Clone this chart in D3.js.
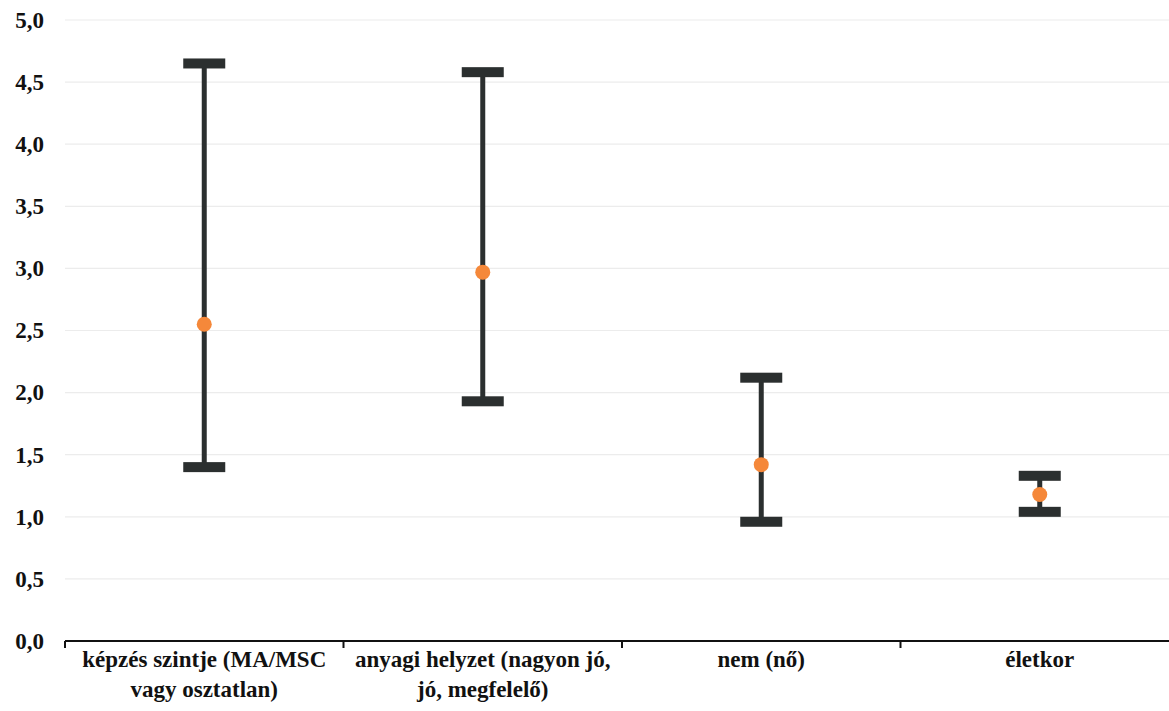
<!DOCTYPE html>
<html>
<head>
<meta charset="utf-8">
<script src="https://cdn.jsdelivr.net/npm/d3@7"></script>
<style>
  html, body { margin: 0; padding: 0; background: #ffffff; }
  svg { display: block; }
  text { font-family: "Liberation Serif", "Times New Roman", serif; font-weight: bold; fill: #111; }
</style>
</head>
<body>
<svg id="chart" width="1169" height="711"></svg>
<script>
// ---- data ----
const categories = ["cat1", "cat2", "cat3", "cat4"];
const categoryLabels = [
  ["képzés szintje (MA/MSC", "vagy osztatlan)"],
  ["anyagi helyzet (nagyon jó,", "jó, megfelelő)"],
  ["nem (nő)"],
  ["életkor"]
];
const estimate = [2.55, 2.97, 1.42, 1.18];
const lower    = [1.40, 1.93, 0.96, 1.04];
const upper    = [4.65, 4.58, 2.12, 1.33];
const yTicks   = [0, 0.5, 1, 1.5, 2, 2.5, 3, 3.5, 4, 4.5, 5];

// ---- layout ----
const svg = d3.select("#chart");
const plotLeft = 65, plotRight = 1179, yBottom = 641, yTop = 20;

const x = d3.scaleBand().domain(categories).range([plotLeft, plotRight]).padding(0);
const y = d3.scaleLinear().domain([0, 5]).range([yBottom, yTop]);
const fmt = v => d3.format(".1f")(v).replace(".", ",");

// gridlines
svg.append("g").selectAll("line")
  .data(yTicks.filter(t => t > 0))
  .join("line")
  .attr("x1", plotLeft).attr("x2", 1169)
  .attr("y1", d => y(d)).attr("y2", d => y(d))
  .attr("stroke", "#ececec").attr("stroke-width", 1.2);

// y axis labels
const yAxis = d3.axisLeft(y).tickValues(yTicks).tickFormat(fmt).tickSize(0).tickPadding(21);
const gy = svg.append("g").attr("transform", `translate(${plotLeft},0)`).call(yAxis);
gy.select(".domain").remove();
gy.selectAll("text")
  .attr("font-size", 23)
  .attr("font-family", "'Liberation Serif', 'Times New Roman', serif")
  .attr("font-weight", "bold")
  .attr("fill", "#111");

// x axis line and ticks at category boundaries
svg.append("line")
  .attr("x1", plotLeft).attr("x2", 1169)
  .attr("y1", y(0)).attr("y2", y(0))
  .attr("stroke", "#111").attr("stroke-width", 2);
const boundaries = categories.map(c => x(c));
svg.append("g").selectAll("line")
  .data(boundaries)
  .join("line")
  .attr("x1", d => d).attr("x2", d => d)
  .attr("y1", y(0)).attr("y2", y(0) + 7)
  .attr("stroke", "#111").attr("stroke-width", 2);

// x labels
const xl = svg.append("g");
categories.forEach((c, i) => {
  const cx = x(c) + x.bandwidth() / 2;
  const t = xl.append("text")
    .attr("x", cx).attr("y", 667)
    .attr("text-anchor", "middle")
    .attr("font-size", 23);
  categoryLabels[i].forEach((line, j) => {
    t.append("tspan").attr("x", cx).attr("dy", j === 0 ? 0 : 30).text(line);
  });
});

// error bars
const dark = "#2b2f2f";
const capW = 42, capH = 10, stemW = 5;
const g = svg.append("g");
categories.forEach((c, i) => {
  const cx = x(c) + x.bandwidth() / 2;
  g.append("line")
    .attr("x1", cx).attr("x2", cx)
    .attr("y1", y(upper[i])).attr("y2", y(lower[i]))
    .attr("stroke", dark).attr("stroke-width", stemW);
  [upper[i], lower[i]].forEach(v => {
    g.append("rect")
      .attr("x", cx - capW / 2).attr("y", y(v) - capH / 2)
      .attr("width", capW).attr("height", capH)
      .attr("fill", dark);
  });
  g.append("circle")
    .attr("cx", cx).attr("cy", y(estimate[i]))
    .attr("r", 7.5)
    .attr("fill", "#f5883a");
});
</script>
</body>
</html>
